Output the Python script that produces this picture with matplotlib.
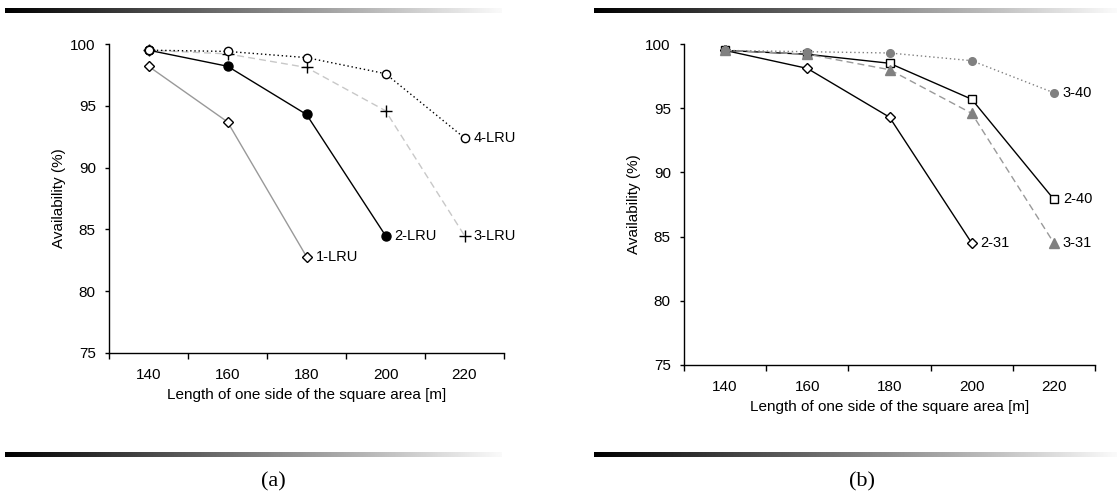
import numpy as np
import matplotlib
matplotlib.use("Agg")
import matplotlib.pyplot as plt

plt.rcParams['font.family'] = ['Liberation Sans', 'DejaVu Sans']

# ---- data ----
x_cats = [140, 160, 180, 200, 220]
x_tick_labels = ["140", "160", "180", "200", "220"]
y_ticks = [75, 80, 85, 90, 95, 100]

# panel (a)
lru1 = [98.2, 93.7, 82.8]
lru2 = [99.5, 98.2, 94.3, 84.5]
lru3 = [99.5, 99.2, 98.1, 94.6, 84.5]
lru4 = [99.5, 99.4, 98.9, 97.6, 92.4]

# panel (b)
s2_31 = [99.5, 98.1, 94.3, 84.5]
s2_40 = [99.5, 99.2, 98.5, 95.7, 87.9]
s3_31 = [99.5, 99.2, 98.0, 94.6, 84.5]
s3_40 = [99.5, 99.4, 99.3, 98.7, 96.2]

W, H = 1117, 501
fig = plt.figure(figsize=(W / 100, H / 100), dpi=100)


def px_axes(x0, y0, x1, y1):
    return fig.add_axes([x0 / W, 1 - y1 / H, (x1 - x0) / W, (y1 - y0) / H])


def style_axes(ax):
    ax.set_xlim(130, 230)
    ax.set_ylim(75, 100)
    for s in ['top', 'right']:
        ax.spines[s].set_visible(False)
    for s in ['left', 'bottom']:
        ax.spines[s].set_linewidth(1.0)
        ax.spines[s].set_color('black')
    ax.set_yticks(y_ticks)
    ax.set_yticklabels([str(v) for v in y_ticks])
    ax.tick_params(axis='y', direction='out', length=3, width=1, pad=6.5, labelsize=11)
    # category-style x axis: ticks at boundaries, labels at centers
    ax.set_xticks([130, 150, 170, 190, 210, 230])
    ax.set_xticklabels([])
    ax.set_xticks(x_cats, minor=True)
    ax.set_xticklabels(x_tick_labels, minor=True)
    ax.tick_params(axis='x', which='major', direction='out', length=4, width=1)
    ax.tick_params(axis='x', which='minor', length=0, pad=11, labelsize=11)
    ax.set_xlabel("Length of one side of the square area [m]", fontsize=11, labelpad=4)
    ax.set_ylabel("Availability (%)", fontsize=11, labelpad=3)
    ax.patch.set_alpha(0)


def end_label(ax, xs, ys, text):
    ax.annotate(text, (xs[len(ys) - 1], ys[-1]), xytext=(6.5, 0), textcoords='offset points',
                va='center', ha='left', fontsize=10.5, clip_on=False)


# ---- panel (a) ----
axa = px_axes(109, 44, 504, 353)
style_axes(axa)
axa.plot(x_cats[:len(lru1)], lru1, color='#999999', lw=1.0, marker='D', ms=5,
         mfc='white', mec='black', mew=1.0, clip_on=False)
axa.plot(x_cats[:len(lru3)], lru3, color='#c8c8c8', lw=1.0, ls=(0, (5, 3)), marker='+', ms=8,
         mfc='black', mec='black', mew=1.0, clip_on=False)
axa.plot(x_cats[:len(lru4)], lru4, color='black', lw=1.0, ls=(0, (1, 2)), marker='o', ms=6,
         mfc='white', mec='black', mew=1.0, clip_on=False)
axa.plot(x_cats[:len(lru2)], lru2, color='black', lw=1.0, marker='o', ms=6.5,
         mfc='black', mec='black', clip_on=False)
axa.plot(x_cats[:1], lru4[:1], ls='none', marker='o', ms=6, mfc='white', mec='black', mew=1.0,
         clip_on=False)
end_label(axa, x_cats, lru1, "1-LRU")
end_label(axa, x_cats, lru2, "2-LRU")
end_label(axa, x_cats, lru3, "3-LRU")
end_label(axa, x_cats, lru4, "4-LRU")

# ---- panel (b) ----
axb = px_axes(684, 44, 1095, 365)
style_axes(axb)
axb.plot(x_cats[:len(s2_31)], s2_31, color='black', lw=1.0, marker='D', ms=5,
         mfc='white', mec='black', mew=1.0, clip_on=False)
axb.plot(x_cats[:len(s2_40)], s2_40, color='black', lw=1.0, marker='s', ms=5.5,
         mfc='white', mec='black', mew=1.0, clip_on=False)
axb.plot(x_cats[:len(s3_31)], s3_31, color='#999999', lw=1.0, ls=(0, (5, 3)), marker='^', ms=6.5,
         mfc='#808080', mec='#808080', clip_on=False)
axb.plot(x_cats[:len(s3_40)], s3_40, color='#808080', lw=1.0, ls=(0, (1, 2)), marker='o', ms=5.5,
         mfc='#808080', mec='#808080', clip_on=False)
end_label(axb, x_cats, s2_31, "2-31")
end_label(axb, x_cats, s2_40, "2-40")
end_label(axb, x_cats, s3_31, "3-31")
end_label(axb, x_cats, s3_40, "3-40")

# ---- gradient bars ----
grad = np.linspace(0, 1, 512).reshape(1, -1)


def bar(x0, y0, x1, y1):
    bx = px_axes(x0, y0, x1, y1)
    bx.imshow(grad, aspect='auto', cmap='gray', vmin=0, vmax=1.02, interpolation='bilinear')
    bx.set_axis_off()


bar(5, 8, 502, 13)
bar(5, 452, 502, 457)
bar(594, 8, 1117, 13)
bar(594, 452, 1117, 457)

# ---- panel captions ----
fig.text(273 / W, 1 - 482 / H, "(a)", ha='center', va='center', fontsize=16,
         family=['Liberation Serif', 'DejaVu Serif'])
fig.text(862 / W, 1 - 482 / H, "(b)", ha='center', va='center', fontsize=16,
         family=['Liberation Serif', 'DejaVu Serif'])

fig.savefig("out.png", dpi=100, facecolor='white')
